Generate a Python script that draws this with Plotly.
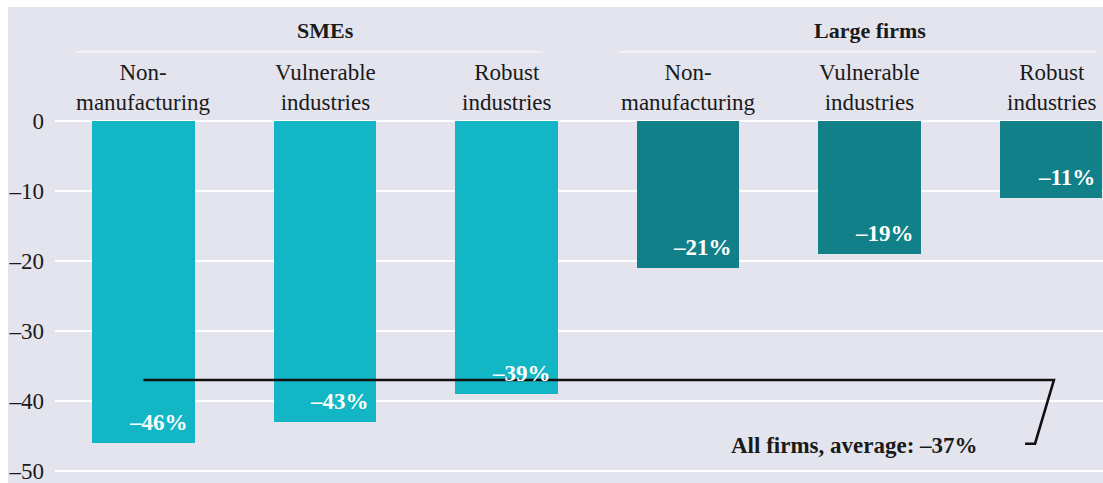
import plotly.graph_objects as go

# ---- data ----
groups = ["SMEs", "Large firms"]
categories = ["Non-<br>manufacturing", "Vulnerable<br>industries", "Robust<br>industries",
              "Non-<br>manufacturing", "Vulnerable<br>industries", "Robust<br>industries"]
values = [-46, -43, -39, -21, -19, -11]
group_of = [0, 0, 0, 1, 1, 1]
average = -37
average_label = "All firms, average: –37%"
y_ticks = [0, -10, -20, -30, -40, -50]
y_ticktext = ["0", "–10", "–20", "–30", "–40", "–50"]

# ---- style ----
BG = "#e3e4ee"
COLORS = ["#13b6c4", "#118088"]
FONT = "Liberation Serif"
TXT = "#1a1a1a"

x = list(range(len(values)))
fig = go.Figure()
fig.add_trace(go.Bar(
    x=x, y=values, width=0.567,
    marker=dict(color=[COLORS[g] for g in group_of], line=dict(width=0)),
    hoverinfo="skip", showlegend=False,
))

# average line across all bars with leader to label
fig.add_trace(go.Scatter(
    x=[x[0], x[-1] + 0.016, x[-1] - 0.088, x[-1] - 0.143],
    y=[average, average, average - 9.1, average - 9.1],
    mode="lines", line=dict(color="#111111", width=2.6),
    hoverinfo="skip", showlegend=False,
))

annotations = []
# value labels inside bars (right-aligned near bottom)
for xi, v in zip(x, values):
    annotations.append(dict(
        x=xi + 0.255, y=v + 3.0, xref="x", yref="y",
        text=f"<b>–{abs(v)}%</b>", showarrow=False,
        xanchor="right", yanchor="middle",
        font=dict(family=FONT, size=23, color="white"),
    ))
# category labels above bars
for xi, c in zip(x, categories):
    annotations.append(dict(
        x=xi, y=4.8, xref="x", yref="y", text=c, showarrow=False,
        xanchor="center", yanchor="middle",
        font=dict(family=FONT, size=23, color=TXT),
    ))
# group headers
for gi, g in enumerate(groups):
    members = [xi for xi, gg in zip(x, group_of) if gg == gi]
    cx = sum(members) / len(members)
    annotations.append(dict(
        x=cx, y=12.9, xref="x", yref="y", text=f"<b>{g}</b>", showarrow=False,
        xanchor="center", yanchor="middle",
        font=dict(family=FONT, size=22, color=TXT),
    ))
# average label
annotations.append(dict(
    x=3.92, y=average - 9.3, xref="x", yref="y", text=f"<b>{average_label}</b>",
    showarrow=False, xanchor="center", yanchor="middle",
    font=dict(family=FONT, size=23, color=TXT),
))

shapes = [
    # white frame strips outside the lavender panel
    dict(type="rect", xref="paper", yref="paper", x0=-0.06, x1=1.01, y0=1.0, y1=1.03,
         fillcolor="white", line=dict(width=0), layer="below"),
    dict(type="rect", xref="paper", yref="paper", x0=-0.06, x1=-0.0449, y0=-0.01, y1=1.03,
         fillcolor="white", line=dict(width=0), layer="below"),
    # group header separators
    dict(type="line", xref="x", yref="y", x0=-0.37, x1=2.2, y0=9.9, y1=9.9,
         line=dict(color="#f6f6fa", width=1.5)),
    dict(type="line", xref="x", yref="y", x0=2.62, x1=5.25, y0=9.9, y1=9.9,
         line=dict(color="#f6f6fa", width=1.5)),
]

fig.update_layout(
    width=1103, height=483,
    margin=dict(l=55, r=0, t=7, b=0),
    paper_bgcolor=BG, plot_bgcolor=BG,
    bargap=0, annotations=annotations, shapes=shapes,
    font=dict(family=FONT, size=23, color=TXT),
)
fig.update_xaxes(range=[-0.4876, 5.2865], showgrid=False, zeroline=False,
                 showticklabels=False, fixedrange=True)
fig.update_yaxes(range=[-51.714, 16.286], tickvals=y_ticks, ticktext=y_ticktext,
                 showgrid=True, gridcolor="white", gridwidth=2, zeroline=False,
                 ticks="", ticklabelstandoff=10, ticklabeloverflow="allow",
                 tickfont=dict(family=FONT, size=23, color=TXT))

fig.write_html("out.html")
